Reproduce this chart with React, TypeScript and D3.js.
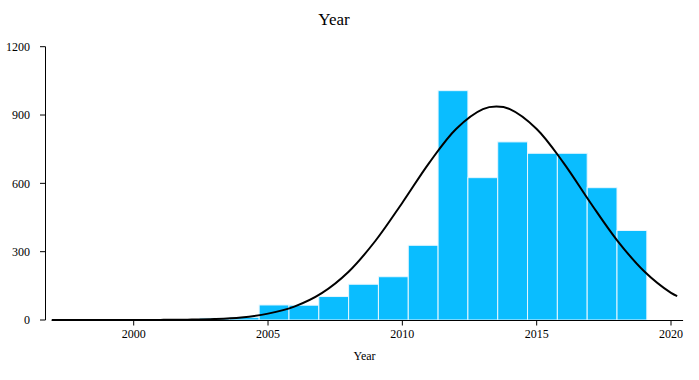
import React from "react";
import * as d3 from "d3";

const W = 699;
const H = 380;

// Histogram: 20 bins of equal width starting at histStart
const histStart = 1996.9;
const histStep = 1.11;
const histCounts = [0, 0, 0, 0, 0, 8, 12, 66, 65, 103, 157, 190, 328, 1007, 625, 782, 732, 732, 581, 393];

// Fitted curve
const curveYears = [1996.95, 1998, 1999, 2000, 2001, 2002, 2003, 2004, 2005, 2006, 2007, 2008, 2009, 2010, 2011, 2012, 2013, 2013.5, 2014, 2015, 2016, 2017, 2018, 2019, 2020, 2020.23];
const curveValues = [0, 0, 0, 0.1, 0.5, 1.5, 4, 11, 28, 60, 118, 212, 348, 515, 690, 839, 926, 937, 926, 839, 690, 515, 349, 214, 119, 105];

const xTicks = [2000, 2005, 2010, 2015, 2020];
const yTicks = [0, 300, 600, 900, 1200];

const FONT = "'Liberation Serif', 'DejaVu Serif', serif";

export default function App() {
  const x = d3.scaleLinear().domain([2000, 2020]).range([133.7, 671]);
  const y = d3.scaleLinear().domain([0, 1200]).range([320, 46.7]);
  const xDomainLine: [number, number] = [1996.95, 2020.45];

  const bars = histCounts.map((c, i) => {
    const x0 = histStart + i * histStep;
    return { x0, x1: x0 + histStep, c };
  });

  const line = d3
    .line<number>()
    .x((_, i) => x(curveYears[i]))
    .y((v) => y(v))
    .curve(d3.curveCatmullRom.alpha(0.5));

  return (
    <svg
      width={W}
      height={H}
      style={{ position: "absolute", left: 0, top: 0, background: "#fff" }}
      fontFamily={FONT}
    >
      <text x={334} y={25} textAnchor="middle" fontSize={17} fill="#000">
        Year
      </text>

      {bars
        .filter((b) => b.c > 0)
        .map((b, i) => (
          <rect
            key={i}
            x={x(b.x0)}
            y={y(b.c)}
            width={x(b.x1) - x(b.x0)}
            height={y(0) - y(b.c)}
            fill="#0abdff"
            stroke="#e6f7ff"
            strokeWidth={1}
          />
        ))}

      {/* y axis */}
      <line x1={45.5} x2={45.5} y1={y(1200)} y2={y(0)} stroke="#000" strokeWidth={1} />
      {yTicks.map((t) => (
        <g key={t}>
          <line x1={40} x2={45.5} y1={y(t)} y2={y(t)} stroke="#000" strokeWidth={1} />
          <text x={30} y={y(t)} dy="0.35em" textAnchor="end" fontSize={12} fill="#000">
            {t}
          </text>
        </g>
      ))}

      {/* x axis */}
      <line x1={x(xDomainLine[0])} x2={x(xDomainLine[1])} y1={320.5} y2={320.5} stroke="#000" strokeWidth={1} />
      {xTicks.map((t) => (
        <g key={t}>
          <line x1={x(t)} x2={x(t)} y1={320.5} y2={325.5} stroke="#000" strokeWidth={1} />
          <text x={x(t)} y={338} textAnchor="middle" fontSize={12} fill="#000">
            {t}
          </text>
        </g>
      ))}
      <text x={364.5} y={360} textAnchor="middle" fontSize={12} fill="#000">
        Year
      </text>

      <path d={line(curveValues) || ""} fill="none" stroke="#000" strokeWidth={2} />
    </svg>
  );
}
